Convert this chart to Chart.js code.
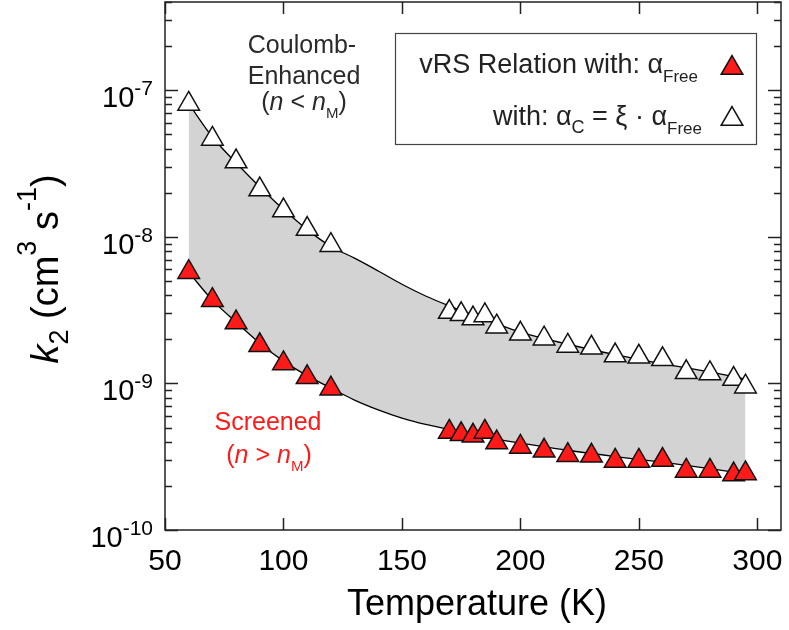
<!DOCTYPE html>
<html>
<head>
<meta charset="utf-8">
<script src="https://cdn.jsdelivr.net/npm/chart.js@4.4.1/dist/chart.umd.min.js"></script>
<style>
  html, body { margin: 0; padding: 0; background: #fff; }
  #wrap { width: 789px; height: 630px; position: relative; }
</style>
</head>
<body>
<div id="wrap"><canvas id="k2Chart"></canvas></div>
<script>
// measured points (K, cm^3 s^-1)
const temps = [60, 70, 80, 90, 100, 110, 120, 170, 175, 180, 185, 190, 200, 210, 220, 230, 240, 250, 260, 270, 280, 290, 295];
const k2Free = [5.74e-9, 3.7e-9, 2.6e-9, 1.82e-9, 1.37e-9, 1.1e-9, 9.2e-10, 4.67e-10, 4.5e-10, 4.39e-10, 4.67e-10, 3.95e-10, 3.69e-10, 3.47e-10, 3.24e-10, 3.21e-10, 2.96e-10, 2.96e-10, 3.0e-10, 2.53e-10, 2.53e-10, 2.39e-10, 2.43e-10];
const k2Coulomb = [8.06e-8, 4.65e-8, 3.26e-8, 2.1e-8, 1.51e-8, 1.13e-8, 8.77e-9, 3.07e-9, 2.96e-9, 2.77e-9, 2.91e-9, 2.44e-9, 2.18e-9, 2.02e-9, 1.8e-9, 1.75e-9, 1.55e-9, 1.52e-9, 1.46e-9, 1.19e-9, 1.17e-9, 1.07e-9, 9.5e-10];

// fit curves
const fitTemps = [60, 70, 80, 90, 100, 110, 120, 130, 140, 150, 160, 170, 180, 190, 200, 220, 240, 260, 280, 295];
const fitFree = [5.74e-9, 3.7e-9, 2.62e-9, 1.88e-9, 1.42e-9, 1.13e-9, 9.3e-10, 7.7e-10, 6.6e-10, 5.8e-10, 5.25e-10, 4.85e-10, 4.45e-10, 4.15e-10, 3.92e-10, 3.5e-10, 3.17e-10, 2.9e-10, 2.62e-10, 2.42e-10];
const fitCoulomb = [8.1e-8, 4.8e-8, 3.2e-8, 2.19e-8, 1.54e-8, 1.12e-8, 8.6e-9, 7.15e-9, 5.85e-9, 4.75e-9, 3.95e-9, 3.38e-9, 2.93e-9, 2.55e-9, 2.24e-9, 1.85e-9, 1.57e-9, 1.36e-9, 1.2e-9, 1.07e-9];

const xTickValues = [50, 100, 150, 200, 250, 300];
const yDecades = [-10, -9, -8, -7];

const FONT = "'Liberation Sans', Arial, Helvetica, sans-serif";
const RED = '#ff1a1a';

function pts(xs, ys) {
    return xs.map((x, i) => ({ x: x, y: ys[i] }));
}

// draw a row of text pieces (for sub/superscripts)
function drawRuns(ctx, runs, x, y, align) {
    let total = 0;
    runs.forEach(r => {
        ctx.font = r.font;
        r.w = ctx.measureText(r.t).width;
        total += r.w;
    });
    let cx = x;
    if (align === 'right') cx = x - total;
    if (align === 'center') cx = x - total / 2;
    ctx.textAlign = 'left';
    ctx.textBaseline = 'alphabetic';
    runs.forEach(r => {
        ctx.font = r.font;
        ctx.fillText(r.t, cx, y + (r.dy || 0));
        cx += r.w;
    });
}

function marker(ctx, x, y, fill) {
    ctx.save();
    ctx.fillStyle = fill;
    ctx.strokeStyle = '#111';
    ctx.lineWidth = 1.5;
    Chart.helpers.drawPoint(ctx, { pointStyle: 'triangle', radius: 12.5, borderWidth: 1.5, rotation: 0 }, x, y);
    ctx.restore();
}

const framePlugin = {
    id: 'frame',
    afterDraw(chart) {
        const ctx = chart.ctx;
        const a = chart.chartArea;
        const xs = chart.scales.x;
        const ys = chart.scales.y;
        ctx.save();

        // box
        ctx.strokeStyle = '#222';
        ctx.lineWidth = 1.5;
        ctx.strokeRect(a.left, a.top, a.right - a.left, a.bottom - a.top);

        // x ticks, bottom and top, pointing in
        ctx.beginPath();
        xTickValues.forEach(v => {
            const px = Math.round(xs.getPixelForValue(v)) + 0.5;
            ctx.moveTo(px, a.bottom); ctx.lineTo(px, a.bottom - 12);
            ctx.moveTo(px, a.top); ctx.lineTo(px, a.top + 12);
        });
        // y ticks, left and right
        yDecades.forEach(d => {
            for (let m = 1; m <= 9; m++) {
                const v = m * Math.pow(10, d);
                if (v > ys.max * 1.0001) break;
                const py = Math.round(ys.getPixelForValue(v)) + 0.5;
                const len = m === 1 ? 13 : 7;
                ctx.moveTo(a.left, py); ctx.lineTo(a.left + len, py);
                ctx.moveTo(a.right, py); ctx.lineTo(a.right - len, py);
            }
        });
        ctx.stroke();

        ctx.fillStyle = '#000';
        // x tick labels
        ctx.font = '30px ' + FONT;
        ctx.textAlign = 'center';
        ctx.textBaseline = 'alphabetic';
        xTickValues.forEach(v => {
            ctx.fillText(String(v), xs.getPixelForValue(v), 570);
        });
        // y tick labels 10^d
        yDecades.forEach(d => {
            const py = ys.getPixelForValue(Math.pow(10, d));
            drawRuns(ctx, [
                { t: '10', font: '29px ' + FONT },
                { t: String(d), font: '21px ' + FONT, dy: -12 }
            ], 153, py + 17, 'right');
        });

        // axis titles
        drawRuns(ctx, [{ t: 'Temperature (K)', font: '36px ' + FONT }], (a.left + a.right) / 2 + 4, 615, 'center');
        ctx.save();
        ctx.translate(58, 269);
        ctx.rotate(-Math.PI / 2);
        drawRuns(ctx, [
            { t: 'k', font: 'italic 38px ' + FONT },
            { t: '2', font: '27px ' + FONT, dy: 10 },
            { t: ' (cm', font: '38px ' + FONT },
            { t: '3', font: '27px ' + FONT, dy: -22 },
            { t: ' s', font: '38px ' + FONT },
            { t: '-1', font: '27px ' + FONT, dy: -22 },
            { t: ')', font: '38px ' + FONT }
        ], 0, 0, 'center');
        ctx.restore();

        // region notes
        ctx.fillStyle = '#2a2a2a';
        drawRuns(ctx, [{ t: 'Coulomb-', font: '25px ' + FONT }], 302, 53, 'center');
        drawRuns(ctx, [{ t: 'Enhanced', font: '25px ' + FONT }], 304, 84, 'center');
        drawRuns(ctx, [
            { t: '(', font: '25px ' + FONT },
            { t: 'n', font: 'italic 25px ' + FONT },
            { t: ' < ', font: '25px ' + FONT },
            { t: 'n', font: 'italic 25px ' + FONT },
            { t: 'M', font: '15px ' + FONT, dy: 8 },
            { t: ')', font: '25px ' + FONT }
        ], 304, 110, 'center');
        ctx.fillStyle = RED;
        drawRuns(ctx, [{ t: 'Screened', font: '25px ' + FONT }], 268, 430, 'center');
        drawRuns(ctx, [
            { t: '(', font: '25px ' + FONT },
            { t: 'n', font: 'italic 25px ' + FONT },
            { t: ' > ', font: '25px ' + FONT },
            { t: 'n', font: 'italic 25px ' + FONT },
            { t: 'M', font: '15px ' + FONT, dy: 8 },
            { t: ')', font: '25px ' + FONT }
        ], 269, 463, 'center');

        // legend box
        ctx.fillStyle = '#fff';
        ctx.fillRect(395, 33, 361, 111);
        ctx.strokeStyle = '#444';
        ctx.lineWidth = 1.2;
        ctx.strokeRect(395.5, 33.5, 361, 111);
        ctx.fillStyle = '#222';
        drawRuns(ctx, [
            { t: 'vRS Relation with: α', font: '27px ' + FONT },
            { t: 'Free', font: '17px ' + FONT, dy: 9 }
        ], 698, 73, 'right');
        drawRuns(ctx, [
            { t: 'with: α', font: '27px ' + FONT },
            { t: 'C', font: '18px ' + FONT, dy: 8 },
            { t: ' = ξ · α', font: '27px ' + FONT },
            { t: 'Free', font: '17px ' + FONT, dy: 9 }
        ], 702, 125, 'right');
        marker(ctx, 732, 68, RED);
        marker(ctx, 732, 119, '#fff');

        ctx.restore();
    }
};

const ctx = document.getElementById('k2Chart').getContext('2d');

new Chart(ctx, {
    type: 'scatter',
    data: {
        datasets: [
            {
                label: 'fit free',
                type: 'line',
                data: pts(fitTemps, fitFree),
                borderColor: '#000',
                borderWidth: 1.3,
                pointRadius: 0,
                cubicInterpolationMode: 'monotone',
                backgroundColor: '#d3d3d3',
                fill: 1,
                order: 3
            },
            {
                label: 'fit coulomb',
                type: 'line',
                data: pts(fitTemps, fitCoulomb),
                borderColor: '#000',
                borderWidth: 1.3,
                pointRadius: 0,
                cubicInterpolationMode: 'monotone',
                fill: false,
                order: 2
            },
            {
                label: 'vRS Relation with: αFree',
                data: pts(temps, k2Free),
                pointStyle: 'triangle',
                pointRadius: 12.5,
                borderWidth: 1.5,
                borderColor: '#111',
                backgroundColor: RED,
                order: 1
            },
            {
                label: 'with: αC = ξ·αFree',
                data: pts(temps, k2Coulomb),
                pointStyle: 'triangle',
                pointRadius: 12.5,
                borderWidth: 1.5,
                borderColor: '#111',
                backgroundColor: '#fff',
                order: 0
            }
        ]
    },
    options: {
        responsive: true,
        maintainAspectRatio: false,
        animation: false,
        layout: {
            autoPadding: false,
            padding: { top: 2, right: 8, left: 0, bottom: 0 }
        },
        scales: {
            x: {
                type: 'linear',
                min: 50,
                max: 310,
                grid: { display: false },
                border: { display: false },
                ticks: { display: false },
                afterFit(s) { s.height = 100; }
            },
            y: {
                type: 'logarithmic',
                min: 1e-10,
                max: 4e-7,
                grid: { display: false },
                border: { display: false },
                ticks: { display: false },
                afterFit(s) { s.width = 165; }
            }
        },
        plugins: {
            legend: { display: false },
            tooltip: { enabled: false }
        }
    },
    plugins: [framePlugin]
});
</script>
</body>
</html>
